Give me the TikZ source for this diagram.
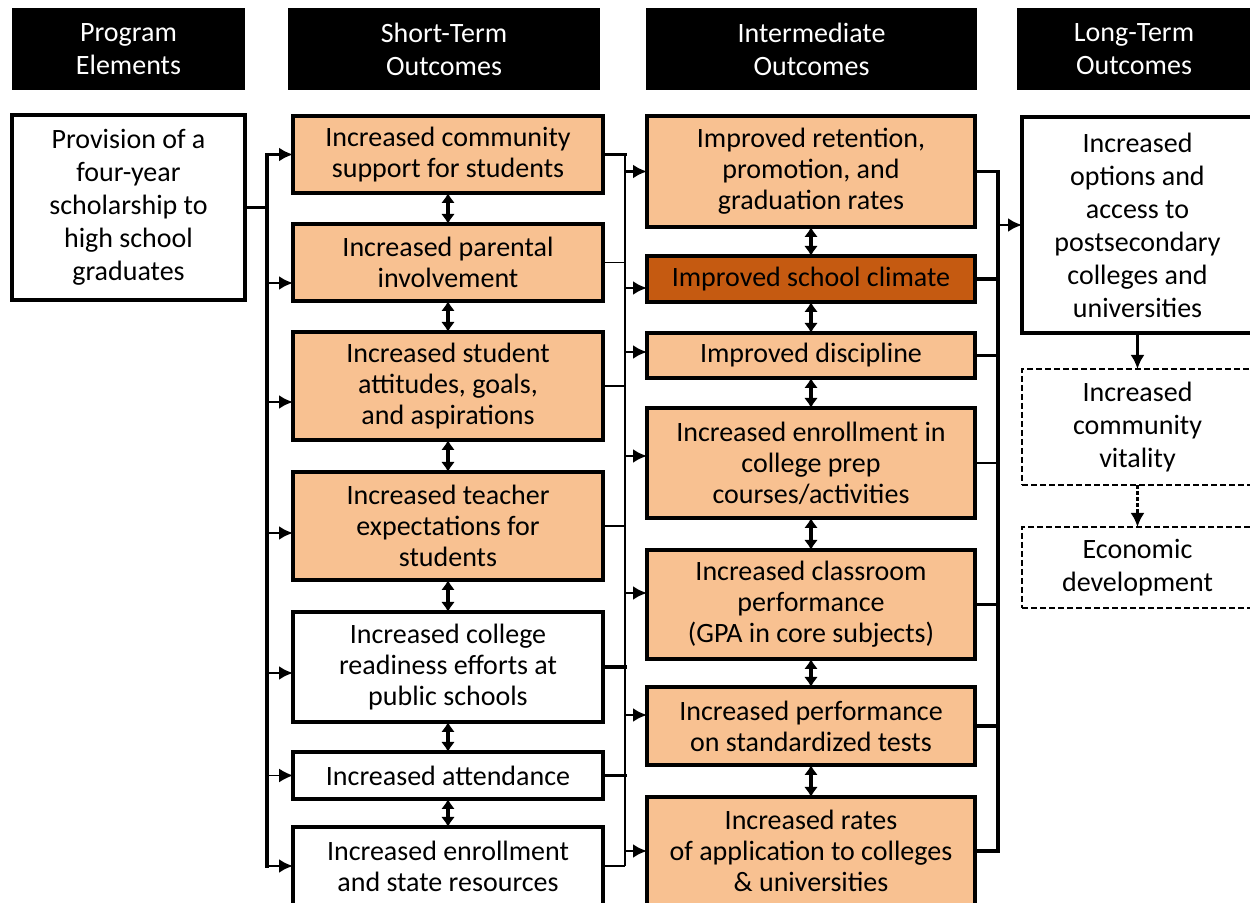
\documentclass[tikz,border=0pt]{standalone}
\usepackage{fontspec}
\setmainfont{Carlito}
\usepackage{xcolor}
\usepackage{tikz}
\usetikzlibrary{positioning}
\usetikzlibrary{arrows.meta}

\definecolor{peach}{HTML}{F8C191}
\definecolor{rust}{HTML}{C55A11}

\tikzset{
	header/.style={
		fill=black, text=white, align=center, inner sep=0pt, outer sep=0pt,
		minimum height=41pt, font=\fontsize{14}{16.5}\selectfont
	},
	outcome/.style={
		draw, line width=1.75pt, fill=white, align=center,
		inner xsep=2pt, inner ysep=0pt, outer sep=0pt,
		font=\fontsize{14}{15.5}\selectfont
	},
	loose/.style={font=\fontsize{14}{16.5}\selectfont},
	shaded/.style={outcome, fill=peach},
	climate/.style={outcome, fill=rust},
	future/.style={outcome, line width=1.1pt, dash pattern=on 3pt off 1.5pt},
	stcol/.style={minimum width=155pt},
	imcol/.style={minimum width=164pt},
	ltcol/.style={minimum width=115.5pt},
	wire/.style={line width=0.8pt},
	fatwire/.style={line width=1.6pt, line cap=rect},
	feed/.style={line width=1.4pt, -{Latex[length=7pt,width=7pt]}},
	thinfeed/.style={line width=0.8pt, -{Latex[length=7pt,width=7pt]}},
	both ways/.style={line width=1.75pt, {Latex[length=5pt,width=7pt]}-{Latex[length=5pt,width=7pt]}}
}

\begin{document}
\begin{tikzpicture}[x=0.5pt, y=-0.5pt]
	\useasboundingbox (0,0) rectangle (1250,903);

	% column headings
	\node[header, minimum width=116.5pt] (hprog) at (128.5,49) {Program\\Elements};
	\node[header, minimum width=156pt] (hshort) at (444,49) {Short-Term\\Outcomes};
	\node[header, minimum width=165.5pt] (hmid) at (811.5,49) {Intermediate\\Outcomes};
	\node[header, minimum width=117pt] (hlong) at (1134,49) {Long-Term\\Outcomes};

	\node[outcome, loose, minimum width=116.5pt, minimum height=92.5pt] (prov) at (128.5,207.5)
		{Provision of a\\four-year\\scholarship to\\high school\\graduates};

	% short-term outcomes
	\node[shaded, stcol, minimum height=38.5pt] (st1) at (448,154.5) {Increased community\\support for students};
	\node[shaded, stcol, minimum height=38.5pt, below=15.5pt of st1] (st2) {Increased parental\\involvement};
	\node[shaded, stcol, minimum height=54pt, below=15.5pt of st2] (st3) {Increased student\\attitudes, goals,\\and aspirations};
	\node[shaded, stcol, minimum height=54pt, below=16pt of st3] (st4) {Increased teacher\\expectations for\\students};
	\node[outcome, stcol, minimum height=55pt, below=16pt of st4] (st5) {Increased college\\readiness efforts at\\public schools};
	\node[outcome, stcol, minimum height=23.5pt, below=15pt of st5] (st6) {Increased attendance};
	\node[outcome, stcol, minimum height=39pt, below=14pt of st6] (st7) {Increased enrollment\\and state resources};

	% intermediate outcomes
	\node[shaded, imcol, minimum height=55.5pt] (ib1) at (811,171.5) {Improved retention,\\promotion, and\\graduation rates};
	\node[climate, imcol, minimum height=23pt, below=14.5pt of ib1] (ib2) {Improved school climate};
	\node[shaded, imcol, minimum height=22.5pt, below=15.5pt of ib2] (ib3) {Improved discipline};
	\node[shaded, imcol, minimum height=55pt, below=15pt of ib3] (ib4) {Increased enrollment in\\college prep\\courses/activities};
	\node[shaded, imcol, minimum height=54.5pt, below=16pt of ib4] (ib5) {Increased classroom\\performance\\(GPA in core subjects)};
	\node[shaded, imcol, minimum height=39pt, below=14pt of ib5] (ib6) {Increased performance\\on standardized tests};
	\node[shaded, imcol, minimum height=54pt, below=16pt of ib6] (ib7) {Increased rates\\of application to colleges\\\& universities};

	% long-term outcomes
	\node[outcome, loose, ltcol, minimum height=108pt] (lt1) at (1137.5,225)
		{Increased\\options and\\access to\\postsecondary\\colleges and\\universities};
	\node[future, loose, ltcol, minimum height=58pt, below=18pt of lt1] (lt2) {Increased\\community\\vitality};
	\node[future, loose, ltcol, minimum height=40.5pt, below=21pt of lt2] (lt3) {Economic\\development};

	\coordinate (lbus) at (267,0);
	\coordinate (mbus) at (625,0);
	\coordinate (rbus) at (998,0);

	% scholarship feeds every short-term outcome
	\draw[fatwire] (prov.east) -- (prov.east -| lbus);
	\draw[fatwire] (st1.west -| lbus) -- (st7.west -| lbus);
	\foreach \n/\d in {st1/0,st2/-10.25,st3/-8,st4/-3.5,st5/-3,st7/0}
		\draw[feed] ([yshift=\d pt]\n.west -| lbus) -- ([yshift=\d pt]\n.west);
	\draw[thinfeed] (st6.west -| lbus) -- (st6.west);

	% short-term to intermediate
	\foreach \n/\w in {st1/fatwire,st2/wire,st3/wire,st4/wire,st5/fatwire,st6/fatwire,st7/wire}
		\draw[\w] (\n.east) -- (\n.east -| mbus);
	\draw[wire] (st1.east -| mbus) -- (st7.east -| mbus);
	\foreach \n/\d in {ib1/0,ib2/-4.5,ib3/1.75,ib4/3.5,ib5/5.75,ib6/5.5,ib7/0}
		\draw[feed] ([yshift=\d pt]\n.west -| mbus) -- ([yshift=\d pt]\n.west);

	% intermediate to long-term
	\foreach \n/\w in {ib1/fatwire,ib2/fatwire,ib3/fatwire,ib4/wire,ib5/fatwire,ib6/fatwire,ib7/fatwire}
		\draw[\w] (\n.east) -- (\n.east -| rbus);
	\draw[fatwire] (ib1.east -| rbus) -- (ib7.east -| rbus);
	\draw[feed] (lt1.west -| rbus) -- (lt1.west);

	% links inside the columns
	\foreach \a/\b in {st1/st2,st2/st3,st3/st4,st4/st5,st5/st6,st6/st7,ib1/ib2,ib2/ib3,ib3/ib4,ib4/ib5,ib5/ib6,ib6/ib7}
		\draw[both ways] (\a) -- (\b);
	\draw[feed] (lt1) -- (lt2);
	\draw[feed, dash pattern=on 2pt off 1pt] (lt2) -- (lt3);
\end{tikzpicture}
\end{document}
